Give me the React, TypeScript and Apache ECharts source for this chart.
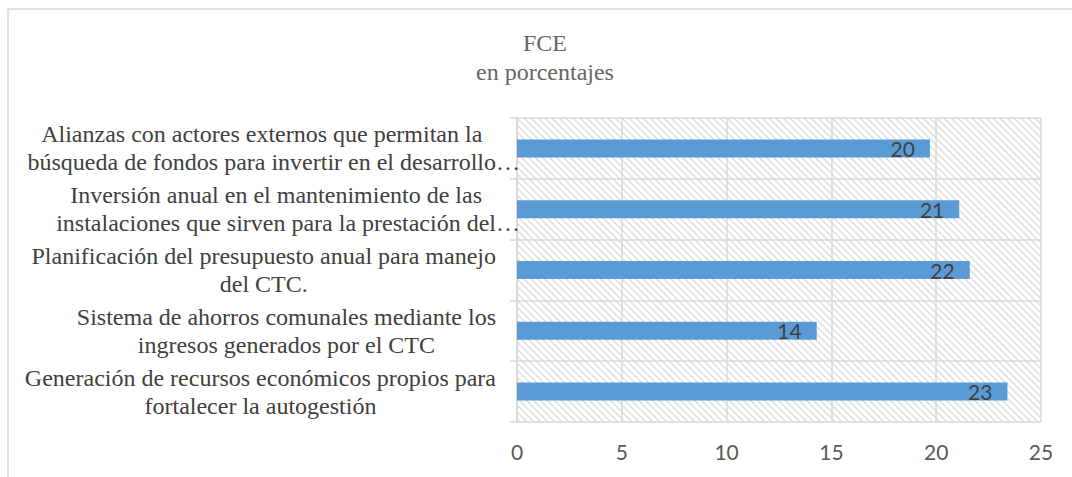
import React, { useEffect, useRef } from "react";
import * as echarts from "echarts";

const titleText = "FCE";
const subtitleText = "en porcentajes";
const categories = [
  "Alianzas con actores externos que permitan la\nbúsqueda de fondos para invertir en el desarrollo…",
  "Inversión anual en el mantenimiento de las\ninstalaciones que sirven para la prestación del…",
  "Planificación del presupuesto anual para manejo\ndel CTC.",
  "Sistema de ahorros comunales mediante los\ningresos generados por el CTC",
  "Generación de recursos económicos propios para\nfortalecer la autogestión",
];
const values = [19.7, 21.1, 21.6, 14.3, 23.4];
const xMin = 0;
const xMax = 25;
const xInterval = 5;

const SERIF = '"Liberation Serif", "Times New Roman", serif';
const SANS = 'Lato, "Open Sans", sans-serif';
const CAT_FONT_SIZE = 24;
const GRID_COLOR = "#d9d9d9";

function measure(text: string, font: string): number {
  const ctx = document.createElement("canvas").getContext("2d");
  if (!ctx) return text.length * 10;
  ctx.font = font;
  return ctx.measureText(text).width;
}

function hatchPattern() {
  const s = 7;
  const svg =
    `<svg xmlns='http://www.w3.org/2000/svg' width='${s}' height='${s}'>` +
    `<rect width='${s}' height='${s}' fill='white'/>` +
    `<path d='M-1,-1 L${s + 1},${s + 1} M-1,${s - 1} L1,${s + 1} M${s - 1},-1 L${s + 1},1' stroke='#dcdcdc' stroke-width='1.3'/>` +
    `</svg>`;
  return {
    image: "data:image/svg+xml;charset=utf-8," + encodeURIComponent(svg),
    repeat: "repeat",
    imageWidth: s,
    imageHeight: s,
  };
}

export default function App() {
  const ref = useRef<HTMLDivElement>(null);

  useEffect(() => {
    if (!ref.current) return;
    const chart = echarts.init(ref.current, null, { renderer: "svg" });
    const catFont = `${CAT_FONT_SIZE}px ${SERIF}`;

    const yData = categories.map((c) => {
      const lines = c.split("\n");
      const last = lines[lines.length - 1];
      if (last.endsWith("…")) {
        return { value: c, textStyle: { width: measure(last.slice(0, -1), catFont) } };
      }
      return c;
    });

    const richBase = {
      fontFamily: SERIF,
      fontSize: CAT_FONT_SIZE,
      lineHeight: 28,
      color: "#404040",
    };

    chart.setOption({
      animation: false,
      title: {
        text: titleText,
        subtext: subtitleText,
        left: 545,
        top: 31,
        textAlign: "center",
        padding: 0,
        itemGap: 5,
        textStyle: { fontFamily: SERIF, fontSize: 24, fontWeight: "normal", color: "#666666" },
        subtextStyle: { fontFamily: SERIF, fontSize: 24, fontWeight: "normal", color: "#666666" },
      },
      graphic: [
        {
          type: "rect",
          silent: true,
          shape: { x: 8, y: 9, width: 1100, height: 500 },
          style: { fill: "none", stroke: GRID_COLOR, lineWidth: 1.5 },
        },
      ],
      grid: {
        left: 517,
        right: 31,
        top: 118,
        bottom: 55,
        show: true,
        backgroundColor: hatchPattern(),
        borderWidth: 0,
      },
      xAxis: {
        type: "value",
        min: xMin,
        max: xMax,
        interval: xInterval,
        axisLine: { show: false },
        axisTick: { show: false },
        splitLine: { show: true, lineStyle: { color: GRID_COLOR, width: 1.5 } },
        axisLabel: { fontFamily: SANS, fontSize: 21, color: "#595959", margin: 19 },
      },
      yAxis: {
        type: "category",
        inverse: true,
        data: yData,
        axisLine: { show: true, lineStyle: { color: GRID_COLOR, width: 1.5 } },
        axisTick: { show: true, length: 7, lineStyle: { color: GRID_COLOR, width: 1.5 } },
        splitLine: { show: true, lineStyle: { color: GRID_COLOR, width: 1.5 } },
        axisLabel: {
          interval: 0,
          margin: 21,
          fontFamily: SERIF,
          fontSize: CAT_FONT_SIZE,
          color: "#404040",
          formatter: (v: string) => {
            const lines = v.split("\n");
            const trunc = lines[lines.length - 1].endsWith("…");
            return lines
              .map((ln, i) => `{${trunc && i === lines.length - 1 ? "l" : "c"}|${ln}}`)
              .join("\n");
          },
          rich: {
            c: { ...richBase, align: "center" },
            l: { ...richBase, align: "left" },
          },
        },
      },
      series: [
        {
          type: "bar",
          data: values,
          barWidth: 18,
          itemStyle: { color: "#5b9bd5" },
          label: {
            show: true,
            position: "insideRight",
            distance: 15,
            formatter: (p: any) => String(Math.round(p.value)),
            fontFamily: SANS,
            fontSize: 21,
            color: "#404040",
          },
        },
      ],
    });

    return () => chart.dispose();
  }, []);

  return (
    <div
      ref={ref}
      style={{ position: "absolute", left: 0, top: 0, width: 1072, height: 477, background: "#fff" }}
    />
  );
}
